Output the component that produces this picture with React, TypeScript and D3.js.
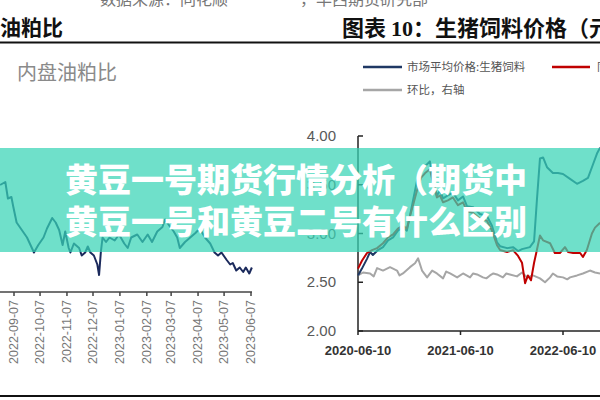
import React from 'react';
import * as d3 from 'd3';

// left panel: 内盘油粕比
const leftDates = [
  '2022-08-22', '2022-08-28', '2022-08-31', '2022-09-04', '2022-09-06', '2022-09-10', '2022-09-16',
  '2022-09-22', '2022-09-30', '2022-10-05', '2022-10-11', '2022-10-15', '2022-10-21', '2022-10-25',
  '2022-10-29', '2022-11-02', '2022-11-05', '2022-11-09', '2022-11-11', '2022-11-15', '2022-11-21',
  '2022-11-24', '2022-11-28', '2022-12-01', '2022-12-04', '2022-12-08', '2022-12-12', '2022-12-14',
  '2022-12-16', '2022-12-18', '2022-12-22', '2022-12-26', '2023-01-01', '2023-01-06', '2023-01-12',
  '2023-01-16', '2023-01-20', '2023-01-27', '2023-02-02', '2023-02-08', '2023-02-13', '2023-02-19',
  '2023-02-25', '2023-02-28', '2023-03-06', '2023-03-10', '2023-03-14', '2023-03-17', '2023-03-23',
  '2023-03-29', '2023-04-04', '2023-04-09', '2023-04-15', '2023-04-21', '2023-04-26', '2023-04-30',
  '2023-05-04', '2023-05-10', '2023-05-14', '2023-05-17', '2023-05-21', '2023-05-25', '2023-05-29',
  '2023-06-01', '2023-06-05', '2023-06-08',
];
const leftValues = [
  2.50, 2.52, 2.41, 2.42, 2.36, 2.25, 2.20,
  2.15, 2.05, 2.10, 2.15, 2.21, 2.28, 2.25,
  2.20, 2.10, 2.19, 2.08, 2.05, 2.11, 2.08,
  2.03, 2.05, 2.09, 2.05, 2.03, 1.97, 1.90,
  2.05, 2.15, 2.12, 2.15, 2.13, 2.17, 2.11,
  2.08, 2.15, 2.17, 2.12, 2.17, 2.12, 2.19,
  2.22, 2.27, 2.22, 2.19, 2.15, 2.08, 2.12,
  2.15, 2.18, 2.21, 2.15, 2.11, 2.05, 2.03,
  2.05, 2.00, 1.97, 1.98, 1.93, 1.95, 1.92,
  1.95, 1.91, 1.95,
];
const leftTicks = [
  '2022-09-07', '2022-10-07', '2022-11-07', '2022-12-07', '2023-01-07',
  '2023-02-07', '2023-03-07', '2023-04-07', '2023-05-07', '2023-06-07',
];

// right panel: 生猪饲料价格
const feedDates = [
  '2020-06-10', '2020-06-24', '2020-07-12', '2020-07-23', '2020-08-02', '2020-08-20', '2020-09-07',
  '2020-09-25', '2020-10-13', '2020-10-30', '2020-11-17', '2020-12-01', '2020-12-12', '2020-12-23',
  '2021-01-06', '2021-01-20', '2021-02-04', '2021-02-21', '2021-03-04', '2021-03-18', '2021-03-29',
  '2021-04-09', '2021-04-26', '2021-05-14', '2021-06-01', '2021-06-19', '2021-07-03', '2021-07-25',
  '2021-08-18', '2021-09-12', '2021-09-30', '2021-10-18', '2021-10-29', '2021-11-23', '2021-12-14',
  '2022-01-01', '2022-01-15', '2022-01-29', '2022-02-12', '2022-02-27', '2022-03-09', '2022-03-20',
  '2022-03-31', '2022-04-14', '2022-05-05', '2022-05-23', '2022-06-10', '2022-07-05', '2022-07-30',
  '2022-08-20', '2022-09-07', '2022-09-25', '2022-10-09', '2022-10-20',
];
const feedValues = [
  2.57, 2.64, 2.74, 2.81, 2.78, 2.83, 2.86,
  2.93, 2.96, 3.03, 3.06, 3.03, 3.18, 3.34,
  3.54, 3.64, 3.69, 3.74, 3.56, 3.39, 3.44,
  3.36, 3.39, 3.42, 3.34, 3.38, 3.28, 3.27,
  3.20, 3.18, 3.08, 2.91, 2.87, 2.85, 2.86,
  2.82, 2.84, 2.85, 2.86, 2.92, 3.34, 3.77,
  3.78, 3.68, 3.62, 3.62, 3.61, 3.56, 3.51,
  3.54, 3.57, 3.71, 3.82, 3.88,
];

const redDates = [
  '2020-06-10', '2020-06-24', '2020-07-12', '2020-07-30', '2020-08-17', '2020-09-07', '2020-09-25',
  '2020-10-13', '2020-10-30', '2020-11-17', '2020-12-01', '2020-12-12', '2020-12-23', '2021-01-06',
  '2021-01-20', '2021-02-04', '2021-02-21', '2021-03-04', '2021-03-18', '2021-03-29', '2021-04-09',
  '2021-04-26', '2021-05-14', '2021-06-01', '2021-06-19', '2021-07-03', '2021-07-25', '2021-08-18',
  '2021-09-12', '2021-09-30', '2021-10-18', '2021-10-29', '2021-11-23', '2021-12-14', '2022-01-01',
  '2022-01-15', '2022-01-26', '2022-02-05', '2022-02-16', '2022-02-27', '2022-03-09', '2022-03-20',
  '2022-03-31', '2022-04-25', '2022-05-12', '2022-05-30', '2022-06-17', '2022-06-28', '2022-07-16',
  '2022-08-10', '2022-08-20', '2022-09-03', '2022-09-21', '2022-10-02', '2022-10-20',
];
const redValues = [
  2.64, 2.72, 2.80, 2.83, 2.85, 2.90, 2.96,
  2.99, 3.05, 3.08, 3.05, 3.18, 3.29, 3.44,
  3.57, 3.62, 3.66, 3.52, 3.37, 3.39, 3.32,
  3.34, 3.37, 3.29, 3.32, 3.23, 3.21, 3.15,
  3.13, 3.03, 2.88, 2.83, 2.81, 2.83, 2.77,
  2.70, 2.49, 2.57, 2.52, 2.70, 2.83, 2.98,
  2.93, 2.90, 2.80, 2.80, 2.86, 2.81, 2.80,
  2.80, 2.76, 2.83, 3.00, 3.06, 3.11,
];

// 环比 (%), right axis
const momDates = [
  '2020-06-10', '2020-06-28', '2020-07-23', '2020-08-05', '2020-08-17', '2020-09-07', '2020-10-02',
  '2020-10-27', '2020-11-05', '2020-11-17', '2020-12-12', '2020-12-30', '2021-01-10', '2021-01-24',
  '2021-02-11', '2021-03-01', '2021-03-18', '2021-04-09', '2021-04-20', '2021-05-04', '2021-05-29',
  '2021-06-19', '2021-07-14', '2021-07-25', '2021-08-08', '2021-08-29', '2021-09-10', '2021-09-23',
  '2021-10-05', '2021-10-18', '2021-11-08', '2021-11-20', '2021-12-03', '2021-12-28', '2022-01-15',
  '2022-02-02', '2022-02-23', '2022-03-20', '2022-04-07', '2022-04-25', '2022-05-05', '2022-05-20',
  '2022-06-10', '2022-06-25', '2022-07-05', '2022-07-30', '2022-08-20', '2022-09-14', '2022-10-02',
  '2022-10-20',
];
const momValues = [
  -0.06, 0.00, -0.02, -0.08, 0.09, 0.04, 0.11,
  0.04, -0.06, -0.02, 0.11, 0.19, 0.29, 0.04,
  -0.10, 0.04, -0.02, -0.12, 0.02, -0.02, -0.10,
  -0.02, -0.10, -0.02, -0.04, -0.10, -0.12, -0.06,
  -0.02, -0.04, -0.10, -0.02, -0.04, -0.08, 0.00,
  -0.10, -0.06, -0.12, -0.20, -0.10, -0.02, -0.08,
  -0.10, -0.14, -0.10, -0.06, -0.02, 0.04, 0.00,
  -0.02,
];

const rightXTicks = ['2020-06-10', '2021-06-10', '2022-06-10'];
const rightYTicks = [2.0, 2.5, 3.0, 3.5, 4.0];

const bannerLines = ['黄豆一号期货行情分析（期货中', '黄豆一号和黄豆二号有什么区别'];

const parse = d3.timeParse('%Y-%m-%d');
const CJK = '"Noto Sans CJK SC", "Noto Sans", sans-serif';
const LAT = '"Liberation Sans", Arial, sans-serif';

type Pt = { d: Date; v: number };
const zipSeries = (dates: string[], vals: number[]): Pt[] =>
  dates.map((s, i) => ({ d: parse(s) as Date, v: vals[i] }));

const App: React.FC = () => {
  // left chart scales
  const xL = d3.scaleTime()
    .domain([parse('2022-09-07') as Date, parse('2023-06-07') as Date])
    .range([14, 251]);
  const yL = d3.scaleLinear().domain([1.8, 2.6]).range([290, 170]);

  // right chart scales
  const xR = d3.scaleTime()
    .domain([parse('2020-06-10') as Date, parse('2022-06-10') as Date])
    .range([358, 563]);
  const yR = d3.scaleLinear().domain([2, 4]).range([331, 136]);
  const yR2 = d3.scaleLinear().domain([-1.2, 2.8]).range([331, 136]);

  const leftLine = d3.line<Pt>().x(p => xL(p.d)).y(p => yL(p.v));
  const rLine = d3.line<Pt>().x(p => xR(p.d)).y(p => yR(p.v));
  const momLine = d3.line<Pt>().x(p => xR(p.d)).y(p => yR2(p.v));

  const leftData = zipSeries(leftDates, leftValues);
  const feedData = zipSeries(feedDates, feedValues);
  const redData = zipSeries(redDates, redValues);
  const momData = zipSeries(momDates, momValues);

  return (
    <svg
      width={600}
      height={400}
      viewBox="0 0 600 400"
      style={{ position: 'absolute', left: 0, top: 0, background: '#fff' }}
    >
      <rect width={600} height={400} fill="#fff" />

      {/* cut-off source lines at the very top */}
      <text x={100} y={5} fontFamily={CJK} fontSize={16} fill="#777">数据来源：同花顺</text>
      <text x={300} y={5} fontFamily={CJK} fontSize={16} fill="#777">，华西期货研究部</text>

      {/* titles and rule */}
      <text x={0} y={35} fontFamily={CJK} fontWeight={700} fontSize={21} fill="#111">油粕比</text>
      <text x={342} y={36} fontFamily={CJK} fontWeight={700} fontSize={22} fill="#111">
        图表 <tspan fontFamily='"Liberation Serif", serif'>10</tspan>：生猪饲料价格（元/公斤）
      </text>
      <line x1={0} x2={600} y1={42.5} y2={42.5} stroke="#111" strokeWidth={2} />

      {/* left chart */}
      <text x={17} y={80} fontFamily={CJK} fontSize={20} fill="#8a8a8a">内盘油粕比</text>
      <path d={leftLine(leftData) || ''} fill="none" stroke="#1b2a5c" strokeWidth={2} strokeLinejoin="round" />
      <line x1={0} x2={252} y1={292} y2={292} stroke="#444" strokeWidth={1.5} />
      {leftTicks.map(t => {
        const x = xL(parse(t) as Date);
        return (
          <g key={t}>
            <line x1={x} x2={x} y1={292} y2={296} stroke="#444" strokeWidth={1.5} />
            <text
              transform={`translate(${x + 4},300) rotate(-90)`}
              textAnchor="end"
              fontFamily={LAT}
              fontSize={12.5}
              fill="#777"
            >
              {t}
            </text>
          </g>
        );
      })}

      {/* right chart legend */}
      <line x1={363} x2={402} y1={67} y2={67} stroke="#1f3864" strokeWidth={2.5} />
      <text x={407} y={71} fontFamily={CJK} fontSize={11.5} fill="#555">市场平均价格:生猪饲料</text>
      <line x1={552} x2={590} y1={67} y2={67} stroke="#c00000" strokeWidth={2.5} />
      <text x={597} y={71} fontFamily={CJK} fontSize={11.5} fill="#555">同比</text>
      <line x1={363} x2={402} y1={90} y2={90} stroke="#a6a6a6" strokeWidth={2.5} />
      <text x={407} y={94} fontFamily={CJK} fontSize={11.5} fill="#555">环比，右轴</text>

      {/* right chart axes */}
      {rightYTicks.map(t => (
        <g key={t}>
          <line x1={358} x2={363} y1={yR(t)} y2={yR(t)} stroke="#222" strokeWidth={1.5} />
          <text x={336} y={yR(t) + 5} textAnchor="end" fontFamily={LAT} fontSize={15} fill="#595959">
            {t.toFixed(2)}
          </text>
        </g>
      ))}
      <line x1={358} x2={358} y1={yR(4)} y2={331} stroke="#222" strokeWidth={1.5} />
      <line x1={358} x2={600} y1={331} y2={331} stroke="#222" strokeWidth={1.5} />
      {rightXTicks.map(t => {
        const x = xR(parse(t) as Date);
        return (
          <g key={t}>
            <line x1={x} x2={x} y1={331} y2={335} stroke="#222" strokeWidth={1.5} />
            <text x={x} y={355} textAnchor="middle" fontFamily={LAT} fontWeight={700} fontSize={13} fill="#333">
              {t}
            </text>
          </g>
        );
      })}

      {/* right chart lines */}
      <path d={momLine(momData) || ''} fill="none" stroke="#a6a6a6" strokeWidth={2} strokeLinejoin="round" />
      <path d={rLine(feedData) || ''} fill="none" stroke="#1f3864" strokeWidth={2} strokeLinejoin="round" />
      <path d={rLine(redData) || ''} fill="none" stroke="#c00000" strokeWidth={2} strokeLinejoin="round" />

      {/* bottom rule */}
      <line x1={0} x2={600} y1={396} y2={396} stroke="#111" strokeWidth={2} />

      {/* headline banner */}
      <rect x={0} y={148} width={600} height={104} fill="rgb(56,212,182)" fillOpacity={0.72} />
      {bannerLines.map((s, i) => (
        <text
          key={s}
          x={65}
          y={192 + i * 42}
          fontFamily={CJK}
          fontWeight={900}
          fontSize={33}
          fill="#fff"
        >
          {s}
        </text>
      ))}
    </svg>
  );
};

export default App;
